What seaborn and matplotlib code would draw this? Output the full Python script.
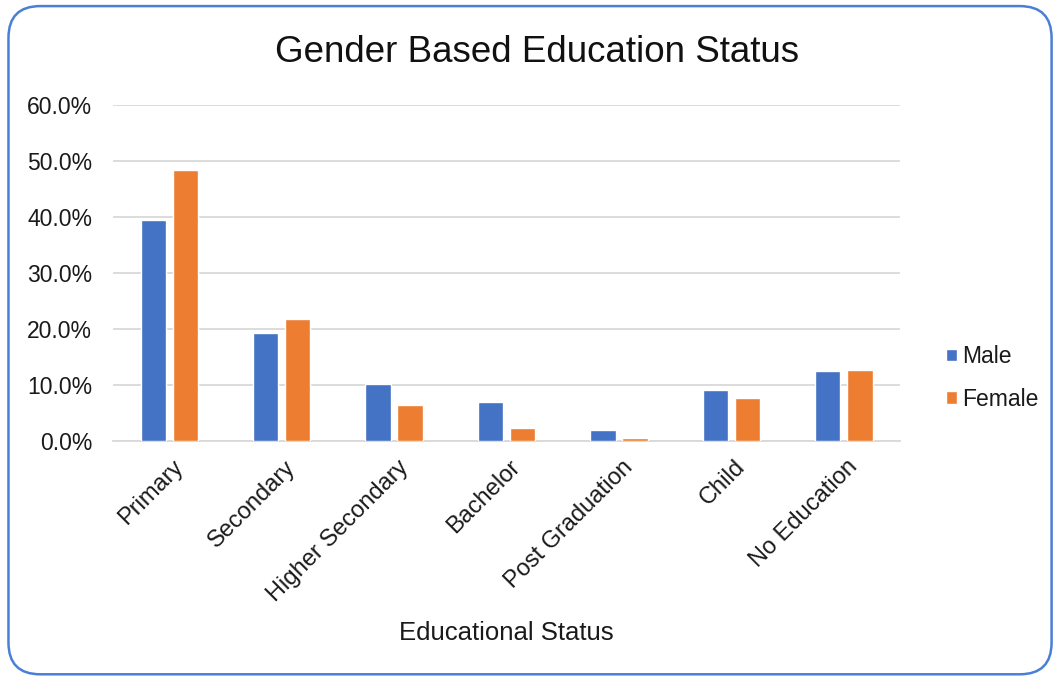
import matplotlib
matplotlib.use("Agg")
import matplotlib.pyplot as plt
import matplotlib.transforms as mtransforms
from matplotlib.patches import FancyBboxPatch
from matplotlib.ticker import PercentFormatter
import seaborn as sns
import pandas as pd

categories = ["Primary", "Secondary", "Higher Secondary", "Bachelor",
              "Post Graduation", "Child", "No Education"]
male = [39.5, 19.3, 10.1, 6.9, 2.0, 9.0, 12.4]
female = [48.3, 21.8, 6.4, 2.3, 0.4, 7.6, 12.6]
genders = ["Male", "Female"]
palette = {"Male": "#4472C4", "Female": "#ED7D31"}

df = pd.DataFrame({
    "Educational Status": categories * 2,
    "Share": male + female,
    "Gender": [genders[0]] * len(categories) + [genders[1]] * len(categories),
})

sns.set_theme(style="white")
plt.rcParams["font.family"] = ["Liberation Sans", "DejaVu Sans"]

fig = plt.figure(figsize=(10.59, 6.77), dpi=100)
ax = fig.add_axes([0.1067, 0.349, 0.7432, 0.496])

sns.barplot(data=df, x="Educational Status", y="Share", hue="Gender",
            palette=palette, width=0.57, gap=0.21, saturation=1,
            ax=ax, legend=True)
for bar in ax.patches:
    bar.set_zorder(3)

ax.set_ylim(0, 60)
ax.set_yticks(range(0, 61, 10))
ax.yaxis.set_major_formatter(PercentFormatter(decimals=1))
ax.grid(axis="y", color="#D9D9D9", linewidth=1.3)
ax.set_axisbelow(True)
for side in ["top", "right", "left"]:
    ax.spines[side].set_visible(False)
ax.spines["bottom"].set_color("#D9D9D9")
ax.spines["bottom"].set_linewidth(1.3)
ax.spines["bottom"].set_zorder(1)
ax.tick_params(axis="x", length=0, labelsize=17, colors="#1a1a1a", pad=11)
ax.tick_params(axis="y", length=0, labelsize=16.5, colors="#1a1a1a", pad=15)
shift = mtransforms.ScaledTranslation(3 / 100, 0, fig.dpi_scale_trans)
for lbl in ax.get_xticklabels():
    lbl.set_rotation(45)
    lbl.set_ha("right")
    lbl.set_va("top")
    lbl.set_rotation_mode("anchor")
    lbl.set_transform(lbl.get_transform() + shift)

ax.set_ylabel("")
ax.set_xlabel("Educational Status", fontsize=18.5, color="#1a1a1a")
ax.xaxis.label.set_va("center")
ax.xaxis.set_label_coords(0.4994, -0.574)

ax.legend(loc="center left", bbox_to_anchor=(935 / 1059, 1 - 378 / 677),
          bbox_transform=fig.transFigure, frameon=False,
          fontsize=16.5, handlelength=0.45, handleheight=0.45,
          handletextpad=0.25, labelspacing=0.85, borderpad=0)
for txt in ax.get_legend().get_texts():
    txt.set_color("#1a1a1a")

fig.text(537 / 1059, 1 - 53 / 677, "Gender Based Education Status",
         fontsize=26.5, ha="center", va="center", color="#111111")

border = FancyBboxPatch((0.008, 0.004), 0.985, 0.987,
                        boxstyle="round,pad=0,rounding_size=0.03",
                        transform=fig.transFigure, fill=False,
                        edgecolor="#4A7FD6", linewidth=1.8,
                        mutation_aspect=1059 / 677)
fig.patches.append(border)

fig.savefig("out.png", dpi=100)
